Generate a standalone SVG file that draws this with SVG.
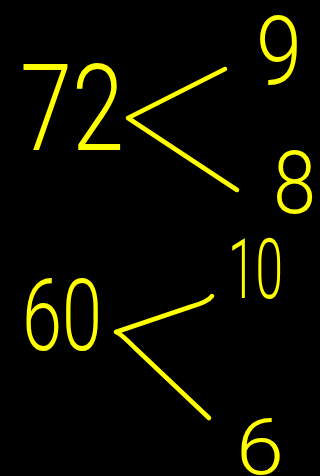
<svg xmlns="http://www.w3.org/2000/svg" width="320" height="476" viewBox="0 0 320 476">
<style>
.t{font-family:Roboto,"Liberation Sans",sans-serif;font-weight:300;fill:#ffff00}
.c{fill:none;stroke:#ffff00;stroke-width:4.5;stroke-linecap:round;stroke-linejoin:round}
</style>
<rect width="320" height="476" fill="#000"/>
<g id="n72"><text class="t" x="20" y="150" font-size="120" textLength="104" lengthAdjust="spacingAndGlyphs">72</text></g>
<g id="n9"><text class="t" x="256" y="84" font-size="96" textLength="46" lengthAdjust="spacingAndGlyphs">9</text></g>
<g id="n8"><text class="t" x="273" y="213" font-size="88" textLength="43" lengthAdjust="spacingAndGlyphs">8</text></g>
<g id="n60"><text class="t" x="22" y="350" font-size="100" textLength="80" lengthAdjust="spacingAndGlyphs">60</text></g>
<g id="n10"><text class="t" x="228" y="298" font-size="84" textLength="55" lengthAdjust="spacingAndGlyphs">10</text></g>
<g id="n6"><text class="t" x="236" y="474" font-size="78" textLength="48" lengthAdjust="spacingAndGlyphs">6</text></g>
<g id="connectors">
<path class="c" d="M225,69 L128,118 L237,190"/>
<path class="c" d="M212,296 Q208,302 190,307 L116,332 Q120,333 135,348 L209,418"/>
</g>
</svg>
